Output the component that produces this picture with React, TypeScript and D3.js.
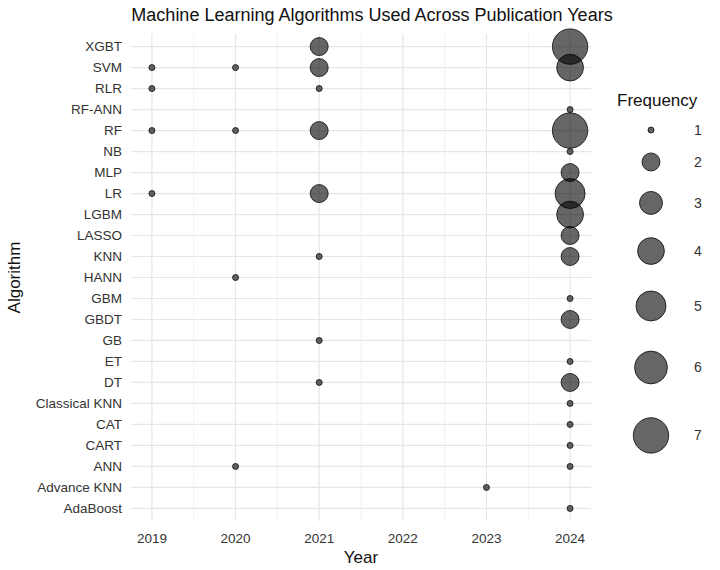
import React from "react";
import * as d3 from "d3";

const algorithms = [
  "AdaBoost", "Advance KNN", "ANN", "CART", "CAT", "Classical KNN", "DT", "ET", "GB",
  "GBDT", "GBM", "HANN", "KNN", "LASSO", "LGBM", "LR", "MLP", "NB", "RF", "RF-ANN",
  "RLR", "SVM", "XGBT",
];
const years = [2019, 2020, 2021, 2022, 2023, 2024];

const pointAlgorithm = [
  "SVM", "RLR", "RF", "LR",
  "SVM", "RF", "HANN", "ANN",
  "XGBT", "SVM", "RLR", "RF", "LR", "KNN", "GB", "DT",
  "Advance KNN",
  "XGBT", "SVM", "RF-ANN", "RF", "NB", "MLP", "LR", "LGBM", "LASSO", "KNN", "GBM",
  "GBDT", "ET", "DT", "Classical KNN", "CAT", "CART", "ANN", "AdaBoost",
];
const pointYear = [
  2019, 2019, 2019, 2019,
  2020, 2020, 2020, 2020,
  2021, 2021, 2021, 2021, 2021, 2021, 2021, 2021,
  2023,
  2024, 2024, 2024, 2024, 2024, 2024, 2024, 2024, 2024, 2024, 2024,
  2024, 2024, 2024, 2024, 2024, 2024, 2024, 2024,
];
const pointFrequency = [
  1, 1, 1, 1,
  1, 1, 1, 1,
  2, 2, 1, 2, 2, 1, 1, 1,
  1,
  7, 4, 1, 7, 1, 2, 5, 4, 2, 2, 1,
  2, 1, 2, 1, 1, 1, 1, 1,
];
const legendBreaks = [1, 2, 3, 4, 5, 6, 7];

const W = 720;
const H = 570;
const FONT = "'Liberation Sans', Arial, Helvetica, sans-serif";

export default function App() {
  const left = 131;
  const right = 591;
  const top = 34;
  const bottom = 521;

  const x = d3.scaleLinear().domain([2018.75, 2024.25]).range([left, right]);
  const n = algorithms.length;
  const y = d3
    .scalePoint<string>()
    .domain(algorithms)
    .range([bottom, top])
    .padding(0.6);
  void n;

  // ggplot-style area scale: size = min + (max-min) * sqrt(rescaled)
  const sizeScale = d3.scaleSqrt().domain([0, 6]).range([0, 14.7]);
  const rOf = (v: number) => 3 + sizeScale(v - 1);

  const minorTicks = d3.range(2018.5, 2024.6, 1).filter((t) => t > 2018.75 && t < 2024.25);

  const points = pointAlgorithm.map((a, i) => ({
    a,
    year: pointYear[i],
    f: pointFrequency[i],
  }));

  // legend key positions: key height grows with key area
  const keyH = (v: number) => 0.146 * rOf(v) ** 2 + 25.4;
  const legendYs: number[] = [];
  let cy = 130;
  legendBreaks.forEach((v, i) => {
    if (i > 0) cy += (keyH(legendBreaks[i - 1]) + keyH(v)) / 2;
    legendYs.push(cy);
  });

  const gridColor = "#e6e6e6";
  const textColor = "#333333";

  return (
    <svg width={W} height={H} style={{ position: "absolute", left: 0, top: 0, background: "#fff" }} fontFamily={FONT}>
      <rect x={0} y={0} width={W} height={H} fill="#fff" />
      {minorTicks.map((t) => (
        <line key={"mn" + t} x1={x(t)} x2={x(t)} y1={top} y2={bottom} stroke={gridColor} strokeWidth={0.6} />
      ))}
      {years.map((yr) => (
        <line key={"mj" + yr} x1={x(yr)} x2={x(yr)} y1={top} y2={bottom} stroke={gridColor} strokeWidth={1.2} />
      ))}
      {algorithms.map((a) => (
        <line key={"h" + a} x1={left} x2={right} y1={y(a)} y2={y(a)} stroke={gridColor} strokeWidth={1.2} />
      ))}
      {points.map((p, i) => (
        <circle
          key={i}
          cx={x(p.year)}
          cy={y(p.a)}
          r={rOf(p.f)}
          fill="#000"
          fillOpacity={0.6}
          stroke="#000"
          strokeOpacity={0.75}
          strokeWidth={1}
        />
      ))}
      {algorithms.map((a) => (
        <text key={"yl" + a} x={122} y={y(a)} dy="0.35em" textAnchor="end" fontSize={13.5} fill={textColor}>
          {a}
        </text>
      ))}
      {years.map((yr) => (
        <text key={"xl" + yr} x={x(yr)} y={543} textAnchor="middle" fontSize={13.5} fill={textColor}>
          {yr}
        </text>
      ))}
      <text x={(left + right) / 2} y={563} textAnchor="middle" fontSize={17} fill="#111">
        Year
      </text>
      <text
        transform={`translate(20,${(top + bottom) / 2}) rotate(-90)`}
        textAnchor="middle"
        fontSize={17}
        fill="#111"
      >
        Algorithm
      </text>
      <text x={372} y={21} textAnchor="middle" fontSize={18} fill="#111">
        Machine Learning Algorithms Used Across Publication Years
      </text>
      <text x={617} y={106} fontSize={17} fill="#111">
        Frequency
      </text>
      {legendBreaks.map((v, i) => (
        <g key={"lg" + v}>
          <circle
            cx={651}
            cy={legendYs[i]}
            r={rOf(v)}
            fill="#000"
            fillOpacity={0.6}
            stroke="#000"
            strokeOpacity={0.75}
            strokeWidth={1}
          />
          <text x={694} y={legendYs[i]} dy="0.35em" fontSize={14} fill={textColor}>
            {v}
          </text>
        </g>
      ))}
    </svg>
  );
}
